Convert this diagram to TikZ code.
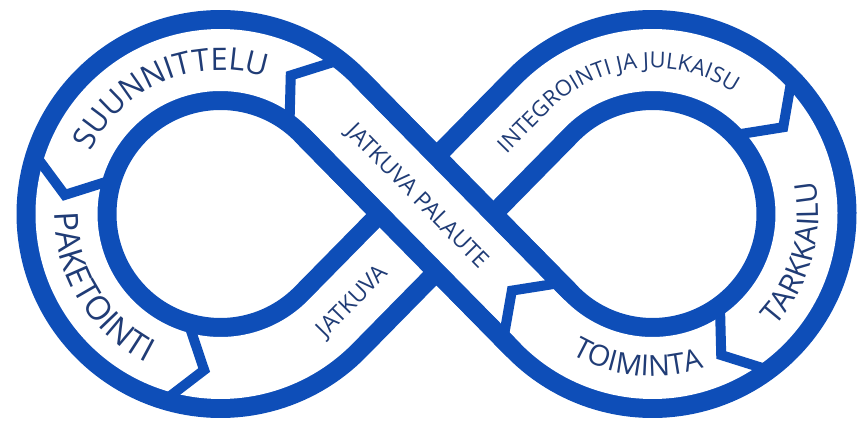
\documentclass[tikz,border=0pt]{standalone}
\usepackage{fontspec}
\newfontfamily\lbl{Open Sans}
\usetikzlibrary{calc,decorations.text}
\definecolor{band}{RGB}{14,78,184}
\definecolor{txt}{RGB}{32,60,118}
\begin{document}
\begin{tikzpicture}[x=1pt,y=1pt,
  ribbon/.style={draw=band,line width=19pt,double=white,double distance=62pt},
  whiteband/.style={draw=white,line width=62pt},
  border/.style={draw=band,line width=19pt},
  chev/.style={draw=band,line width=10pt,line join=miter,miter limit=10},
  lbltext/.style={text=txt,inner sep=0pt,text depth=0pt}]
\useasboundingbox (0,0) rectangle (858,423);
\pgfmathsetmacro\ta{acos(154/216)}
\pgfmathsetmacro\da{90-\ta}
\coordinate (L) at (220.5,209);
\coordinate (Rc) at (652.5,209);
\coordinate (C) at (436.5,209);
\coordinate (T1) at ($(L)+(\ta:154pt)$);
\coordinate (T3) at ($(Rc)+(180-\ta:154pt)$);
\coordinate (T4) at ($(Rc)+(180+\ta:154pt)$);
% ribbon
\path[ribbon] (T1) arc[start angle=\ta,end angle={360-\ta},radius=154pt]
  -- (T3) arc[start angle={180-\ta},end angle={-180+\ta},radius=154pt] -- cycle;
% over-crossing part (feedback band on top)
\path[whiteband] (T4) -- (T1);
\path[border] ($(T4)+(270-\da:40.5pt)$) -- ($(T1)+(270-\da:40.5pt)$);
\path[border] ($(T4)+(90-\da:40.5pt)$) -- ($(T1)+(90-\da:40.5pt)$);
% chevrons
\coordinate (c1) at ($(L)+(52:154pt)$);
\draw[chev] ($(c1)+(52:42pt)$) -- ($(c1)+(145:30pt)$) -- ($(c1)+(232:42pt)$);
\coordinate (c2) at ($(L)+(162:154pt)$);
\draw[chev] ($(c2)+(162:42pt)$) -- ($(c2)+(252:30pt)$) -- ($(c2)+(342:42pt)$);
\coordinate (c3) at ($(L)+(253:154pt)$);
\draw[chev] ($(c3)+(253:42pt)$) -- ($(c3)+(343:30pt)$) -- ($(c3)+(73:42pt)$);
\coordinate (c4) at ($(Rc)+(44.6:154pt)$);
\draw[chev] ($(c4)+(44.6:42pt)$) -- ($(c4)+(-45.4:30pt)$) -- ($(c4)+(224.6:42pt)$);
\coordinate (c5) at ($(Rc)+(-53:154pt)$);
\draw[chev] ($(c5)+(-53:42pt)$) -- ($(c5)+(-143:30pt)$) -- ($(c5)+(127:42pt)$);
\coordinate (c6) at ($(T4)+(180-\da:14pt)$);
\draw[chev] ($(c6)+(270-\da:42pt)$) -- ($(c6)+(180-\da:30pt)$) -- ($(c6)+(90-\da:42pt)$);
% curved labels
\path[decorate,decoration={text along path,text align=center,
  text={|\lbl\fontsize{31}{31}\selectfont\color{txt}|SUUNNITTELU}}]
  ($(L)+(183:144pt)$) arc[start angle=183,end angle=43,radius=144pt];
\path[decorate,decoration={text along path,text align=center,
  text={|\lbl\fontsize{33}{33}\selectfont\color{txt}|PAKETOINTI}}]
  ($(L)+(151.5:166pt)$) arc[start angle=151.5,end angle=271.5,radius=166pt];
\path[decorate,decoration={text along path,text align=center,
  text={|\lbl\fontsize{30}{30}\selectfont\color{txt}|TARKKAILU}}]
  ($(Rc)+(-75.5:166pt)$) arc[start angle=-75.5,end angle=44.5,radius=166pt];
\path[decorate,decoration={text along path,text align=center,
  text={|\lbl\fontsize{29}{29}\selectfont\color{txt}|TOIMINTA}}]
  ($(Rc)+(-155.8:162pt)$) arc[start angle=-155.8,end angle=-35.8,radius=162pt];
\path[decorate,decoration={text along path,
  text={|\lbl\fontsize{22}{22}\selectfont\color{txt}|INTEGROINTI JA JULKAISU}}]
  ($(C)+(\da:92pt)+(\da-90:8pt)$) -- ($(Rc)+(180-\ta:146pt)$)
  arc[start angle={180-\ta},end angle=15,radius=146pt];
% straight labels
\node[lbltext,font=\lbl\fontsize{23}{23}\selectfont,text height=16.4pt,rotate=-\da]
  (jp) at ($(C)+(180-\da:26pt)$) {JATKUVA PALAUTE};
\node[lbltext,font=\lbl\fontsize{23}{23}\selectfont,text height=16.4pt,rotate=\da]
  (jk) at ($(C)+(180+\da:121pt)$) {JATKUVA};
\end{tikzpicture}
\end{document}
